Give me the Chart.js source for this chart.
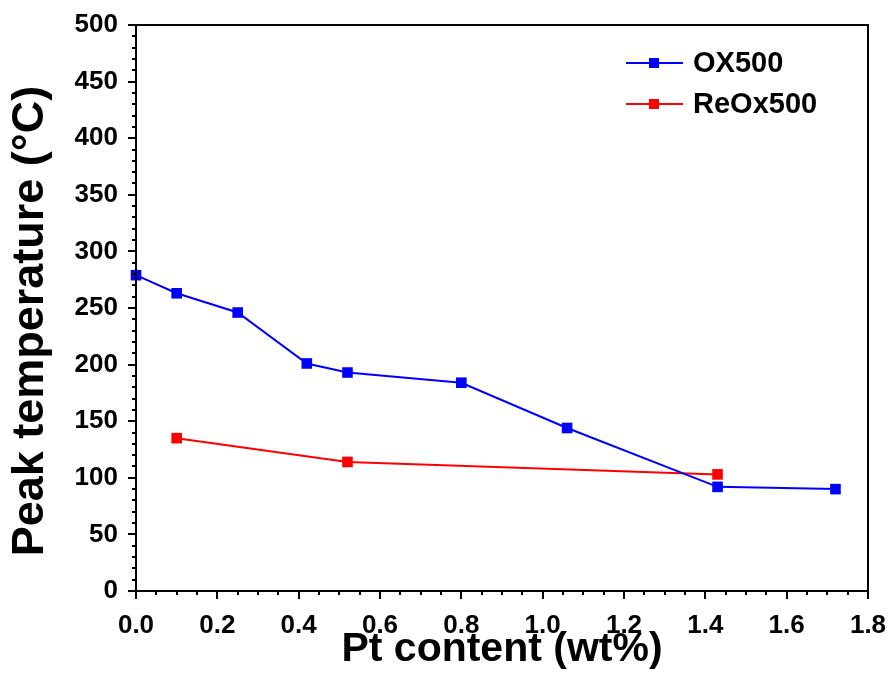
<!DOCTYPE html>
<html>
<head>
<meta charset="utf-8">
<script src="https://cdn.jsdelivr.net/npm/chart.js@4"></script>
<style>
  html, body { margin: 0; padding: 0; background: #fff; }
  canvas { display: block; }
</style>
</head>
<body>
<canvas id="chart" width="890" height="676"></canvas>
<script>
// --- data ---
const oxX = [0, 0.1, 0.25, 0.42, 0.52, 0.8, 1.06, 1.43, 1.72];
const oxY = [279, 263, 246, 201, 193, 184, 144, 92, 90];
const reoxX = [0.1, 0.52, 1.43];
const reoxY = [135, 114, 103];
const seriesLabels = ['OX500', 'ReOx500'];
const xTitle = 'Pt content (wt%)';
const yTitle = 'Peak temperature (°C)';

const FONT = '"Liberation Sans", Arial, Helvetica, sans-serif';

const toPts = (xs, ys) => xs.map((x, i) => ({ x: x, y: ys[i] }));
const near = (v, step) => Math.abs(v / step - Math.round(v / step)) < 1e-6;

// ticks + frame + legend + y title, drawn with the scales' own pixel mapping
const framePlugin = {
  id: 'frame',
  afterDraw(chart) {
    const { ctx, chartArea: a, scales } = chart;
    ctx.save();
    ctx.strokeStyle = '#000';
    ctx.lineWidth = 2;
    // box
    ctx.strokeRect(a.left, a.top, a.right - a.left, a.bottom - a.top);
    // x ticks
    scales.x.ticks.forEach(t => {
      const px = Math.round(scales.x.getPixelForValue(t.value));
      const len = near(t.value, 0.2) ? 8 : 4;
      ctx.beginPath();
      ctx.moveTo(px, a.bottom);
      ctx.lineTo(px, a.bottom + len);
      ctx.stroke();
    });
    // y ticks
    scales.y.ticks.forEach(t => {
      const py = Math.round(scales.y.getPixelForValue(t.value));
      const len = near(t.value, 50) ? 8 : 4;
      ctx.beginPath();
      ctx.moveTo(a.left, py);
      ctx.lineTo(a.left - len, py);
      ctx.stroke();
    });

    // y title (a touch below the axis middle, as in the figure)
    ctx.save();
    ctx.translate(31, 321);
    ctx.rotate(-Math.PI / 2);
    ctx.fillStyle = '#000';
    ctx.font = 'bold 45px ' + FONT;
    ctx.textAlign = 'center';
    ctx.textBaseline = 'middle';
    ctx.fillText(yTitle, 0, 0);
    ctx.restore();

    // legend (top right, inside the plot)
    const rows = [63, 104];
    chart.data.datasets.forEach((ds, i) => {
      const y = rows[i];
      ctx.strokeStyle = ds.borderColor;
      ctx.lineWidth = 2;
      ctx.beginPath();
      ctx.moveTo(626, y);
      ctx.lineTo(683, y);
      ctx.stroke();
      ctx.fillStyle = ds.borderColor;
      ctx.fillRect(649, y - 5, 10, 10);
      ctx.fillStyle = '#000';
      ctx.font = 'bold 29px ' + FONT;
      ctx.textBaseline = 'middle';
      ctx.textAlign = 'left';
      ctx.fillText(ds.label, 693, y + 1);
    });
    ctx.restore();
  }
};

new Chart(document.getElementById('chart'), {
  type: 'line',
  data: {
    datasets: [
      {
        label: seriesLabels[0],
        data: toPts(oxX, oxY),
        borderColor: '#0000FF',
        backgroundColor: '#0000FF',
        borderWidth: 2,
        pointStyle: 'rect',
        pointRadius: 7.5,
        pointBorderWidth: 0,
        tension: 0
      },
      {
        label: seriesLabels[1],
        data: toPts(reoxX, reoxY),
        borderColor: '#FF0000',
        backgroundColor: '#FF0000',
        borderWidth: 2,
        pointStyle: 'rect',
        pointRadius: 7.5,
        pointBorderWidth: 0,
        tension: 0
      }
    ]
  },
  options: {
    responsive: false,
    animation: false,
    clip: false,
    layout: { padding: { top: 25, right: 22, left: 0, bottom: 0 } },
    plugins: { legend: { display: false }, tooltip: { enabled: false } },
    scales: {
      x: {
        type: 'linear',
        min: 0, max: 1.8,
        border: { display: false },
        grid: { display: false },
        ticks: {
          stepSize: 0.05,
          autoSkip: false,
          maxRotation: 0,
          padding: 11,
          color: '#000',
          font: { family: FONT, size: 26, weight: 'bold' },
          callback: v => near(v, 0.2) ? v.toFixed(1) : ''
        },
        title: {
          display: true,
          text: xTitle,
          color: '#000',
          padding: { top: 0, bottom: 2 },
          font: { family: FONT, size: 41, weight: 'bold' }
        },
        afterFit: s => {
          s.height = 85;
          s.paddingLeft = 0;
          s.paddingRight = 0;
        }
      },
      y: {
        min: 0, max: 500,
        border: { display: false },
        grid: { display: false },
        ticks: {
          stepSize: 10,
          autoSkip: false,
          padding: 10,
          color: '#000',
          font: { family: FONT, size: 26, weight: 'bold' },
          callback: v => near(v, 50) ? String(v) : ''
        },
        title: { display: false },
        afterFit: s => {
          s.width = 136;
          s.paddingTop = 0;
          s.paddingBottom = 0;
        }
      }
    }
  },
  plugins: [framePlugin]
});
</script>
</body>
</html>
